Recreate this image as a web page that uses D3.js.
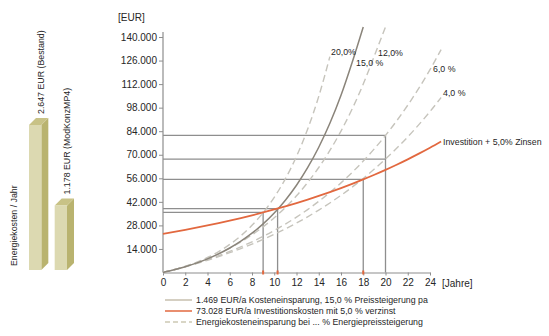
<!DOCTYPE html>
<html>
<head>
<meta charset="utf-8">
<script src="https://cdn.jsdelivr.net/npm/d3@7"></script>
<style>
  body { margin: 0; background: #fff; }
  svg { display: block; font-family: "Liberation Sans", Arial, sans-serif; }
</style>
</head>
<body>
<svg id="chart" width="549" height="336"></svg>
<script>
// ---- data -------------------------------------------------------------
// annual energy cost, existing building vs. modernised concept
const barLabels = ["2.647 EUR (Bestand)", "1.178 EUR (ModKonzMP4)"];
const barValues = [2647, 1178];

// cumulative values in EUR, one entry per year starting at year 0
const save20 = [0, 1638, 3620, 6018, 8920, 12431, 16680, 21821, 28041, 35567, 44675,
  55694, 69028, 85160, 104684, 128302];
const save15 = [0, 1581, 3430, 5595, 8127, 11089, 14556, 18611, 23357, 28908, 35403,
  43003, 51895, 62298, 74470, 88710, 105372, 124866, 146000];
const save12 = [0, 1724, 3680, 5901, 8422, 11284, 14530, 18215, 22399, 27146, 32535,
  38651, 45594, 53473, 62416, 72566, 84087, 97162, 112003, 128849, 146000];
const save6 = [0, 1685, 3513, 5496, 7648, 9982, 12516, 15264, 18246, 21482, 24993,
  28802, 32935, 37419, 42284, 47563, 53291, 59505, 66247, 73563, 81501,
  90113, 99457, 109596, 120596, 132532];
const save4 = [0, 1645, 3405, 5289, 7304, 9460, 11767, 14236, 16877, 19704, 22728,
  25964, 29427, 33131, 37096, 41337, 45876, 50732, 55928, 61488, 67438,
  73803, 80614, 87902, 95701, 104045];
const invest = [23000, 24150, 25358, 26625, 27957, 29354, 30822, 32363, 33981, 35681, 37465,
  39338, 41305, 43370, 45539, 47816, 50206, 52717, 55352, 58120, 61026,
  64077, 67281, 70645, 74178, 77886];

// break-even points (year, EUR) and values after 20 years
const breakYears = [9, 10.3, 18];
const breakValues = [35700, 38000, 55350];
const compareYear = 20;
const compareValues = [81500, 67440];

const curveLabels = ["20,0%", "15,0 %", "12,0%", "6,0 %", "4,0 %"];
const xTicks = [0, 2, 4, 6, 8, 10, 12, 14, 16, 18, 20, 22, 24];
const yTicks = [14000, 28000, 42000, 56000, 70000, 84000, 98000, 112000, 126000, 140000];
const legendLabels = [
  "1.469 EUR/a Kosteneinsparung, 15,0 % Preissteigerung pa",
  "73.028 EUR/a Investitionskosten mit 5,0 % verzinst",
  "Energiekosteneinsparung bei ... % Energiepreissteigerung"
];

// ---- setup ------------------------------------------------------------
const svg = d3.select("#chart");
const fmt = d3.formatLocale({ decimal: ",", thousands: ".", grouping: [3], currency: ["", ""] }).format(",.0f");

const x = d3.scaleLinear().domain([0, 24]).range([163, 430]);
const y = d3.scaleLinear().domain([0, 140000]).range([272.5, 37]);

const gridCol = "#8e8e8e";
const solidCol = "#8a847a";
const dashCol = "#c6c4bc";
const redCol = "#e2683f";
const textCol = "#262626";

// ---- 3D bars on the left ---------------------------------------------
const bx = d3.scaleBand().domain(d3.range(barValues.length)).range([29, 67]).paddingInner(0.52);
const bh = d3.scaleLinear().domain([0, 2647]).range([0, 145]);
const base = 270, depth = 7;
const bars = svg.append("g");
barValues.forEach((v, i) => {
  const x0 = bx(i), w = bx.bandwidth(), top = base - bh(v);
  // side face
  bars.append("path")
    .attr("d", `M${x0 + w},${top} L${x0 + w + depth},${top - depth} L${x0 + w + depth},${base - depth} L${x0 + w},${base} Z`)
    .attr("fill", "#b9b36f");
  // top face
  bars.append("path")
    .attr("d", `M${x0},${top} L${x0 + depth},${top - depth} L${x0 + w + depth},${top - depth} L${x0 + w},${top} Z`)
    .attr("fill", "#c8c286");
  // front face
  bars.append("rect")
    .attr("x", x0).attr("y", top).attr("width", w).attr("height", base - top)
    .attr("fill", "#dcd9b1");
  // value label above the bar
  const lx = x0 + w / 2 + 6, ly = top - depth - 4;
  bars.append("text")
    .attr("transform", `translate(${lx},${ly}) rotate(-90)`)
    .attr("dy", "0.35em")
    .attr("font-size", "8.8px").attr("fill", textCol)
    .text(barLabels[i]);
});
bars.append("text")
  .attr("transform", "translate(14,266) rotate(-90)")
  .attr("dy", "0.35em")
  .attr("font-size", "8.8px").attr("fill", textCol)
  .text("Energiekosten / Jahr");

// ---- axes ---------------------------------------------------------------
const yAxis = svg.append("g")
  .attr("transform", `translate(${x(0)},0)`)
  .call(d3.axisLeft(y).tickValues(yTicks).tickFormat(fmt).tickSize(4).tickPadding(2));
yAxis.select(".domain").remove();
svg.append("line")
  .attr("x1", x(0)).attr("x2", x(0)).attr("y1", y(0)).attr("y2", 32)
  .attr("stroke", gridCol).attr("stroke-width", 1.2);

const xAxis = svg.append("g")
  .attr("transform", `translate(0,${y(0)})`)
  .call(d3.axisBottom(x).tickValues(xTicks).tickSize(3).tickPadding(3).tickSizeOuter(0));

[yAxis, xAxis].forEach(a => {
  a.selectAll(".domain").attr("stroke", gridCol).attr("stroke-width", 1.2);
  a.selectAll(".tick line").attr("stroke", gridCol);
  a.selectAll("text").attr("font-size", "10px").attr("fill", textCol).attr("font-family", null);
});

svg.append("text").attr("x", 118).attr("y", 21)
  .attr("font-size", "10px").attr("fill", textCol).text("[EUR]");
svg.append("text").attr("x", 442).attr("y", 287)
  .attr("font-size", "10px").attr("fill", textCol).text("[Jahre]");

// ---- reference lines (break-even and 20-year values) -------------------
const ref = svg.append("g").attr("stroke", gridCol).attr("stroke-width", 1.3).attr("fill", "none");
breakYears.forEach((t, i) => {
  ref.append("path")
    .attr("d", `M${x(0)},${y(breakValues[i])} H${x(t)} V${y(0)}`);
});
compareValues.forEach(v => {
  ref.append("path").attr("d", `M${x(0)},${y(v)} H${x(compareYear)}`);
});
ref.append("path")
  .attr("d", `M${x(compareYear)},${y(d3.max(compareValues))} V${y(0)}`);

// ---- curves -------------------------------------------------------------
const line = d3.line()
  .x((d, i) => x(i))
  .y(d => y(d))
  .curve(d3.curveMonotoneX);

const dashed = [save20, save12, save6, save4];
dashed.forEach(s => {
  svg.append("path").attr("d", line(s))
    .attr("fill", "none").attr("stroke", dashCol).attr("stroke-width", 1.4)
    .attr("stroke-dasharray", "7,4");
});
svg.append("path").attr("d", line(save15))
  .attr("fill", "none").attr("stroke", solidCol).attr("stroke-width", 1.5);
svg.append("path").attr("d", line(invest))
  .attr("fill", "none").attr("stroke", redCol).attr("stroke-width", 1.8);

// red markers where the break-even verticals meet the time axis
breakYears.forEach(t => {
  svg.append("line")
    .attr("x1", x(t)).attr("x2", x(t)).attr("y1", y(0) - 2).attr("y2", y(0) + 2)
    .attr("stroke", redCol).attr("stroke-width", 2);
});

// ---- curve labels -------------------------------------------------------
const labelPos = [[331, 55], [356, 66], [378, 56], [433, 72], [443, 96]];
curveLabels.forEach((t, i) => {
  svg.append("text").attr("x", labelPos[i][0]).attr("y", labelPos[i][1])
    .attr("font-size", "8.8px").attr("fill", textCol).text(t);
});
svg.append("text").attr("x", 443).attr("y", 145)
  .attr("font-size", "8.8px").attr("fill", textCol).text("Investition + 5,0% Zinsen");

// ---- legend -------------------------------------------------------------
const legend = svg.append("g");
const legStyles = [
  { stroke: "#c7bfae", dash: null },
  { stroke: redCol, dash: null },
  { stroke: "#cdc9b4", dash: "5,3" }
];
legendLabels.forEach((t, i) => {
  const ly = 300 + i * 11;
  legend.append("line")
    .attr("x1", 165).attr("x2", 192).attr("y1", ly).attr("y2", ly)
    .attr("stroke", legStyles[i].stroke).attr("stroke-width", 1.5)
    .attr("stroke-dasharray", legStyles[i].dash);
  legend.append("text").attr("x", 196).attr("y", ly).attr("dy", "0.35em")
    .attr("font-size", "8.8px").attr("fill", textCol).text(t);
});
</script>
</body>
</html>
